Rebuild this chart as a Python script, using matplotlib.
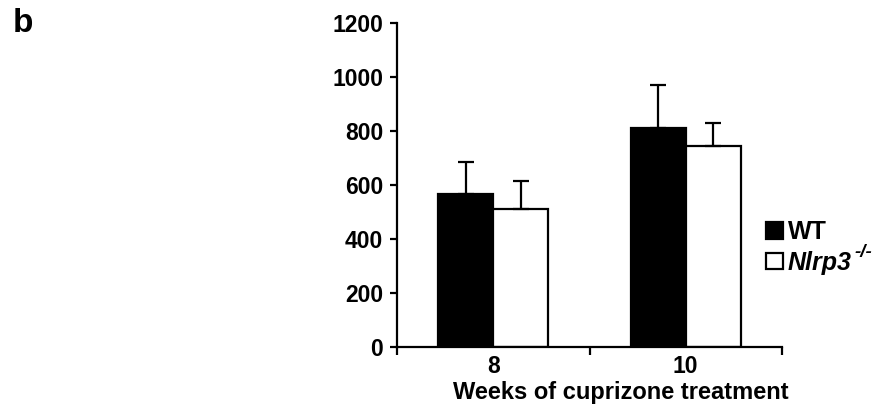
import matplotlib
matplotlib.use("Agg")
import matplotlib.pyplot as plt
import numpy as np

# Data
categories = ["8", "10"]
wt_values = [569, 813]
wt_errors = [118, 160]
ko_values = [512, 745]
ko_errors = [102, 84]
series_labels = ["WT", "Nlrp3"]
ko_superscript = "-/-"
y_ticks = [0, 200, 400, 600, 800, 1000, 1200]
x_label = "Weeks of cuprizone treatment"
panel_label = "b"

plt.rcParams["font.family"] = ["Liberation Sans", "DejaVu Sans"]
plt.rcParams["font.weight"] = "bold"

W, H = 882, 413
fig = plt.figure(figsize=(W / 100, H / 100), dpi=100)
ax = fig.add_axes([397 / W, (H - 347) / H, 385 / W, (347 - 23.3) / H])

x = np.arange(len(categories))
bw = 0.286
lw = 1.6
err_kw = dict(ecolor="black", elinewidth=lw, capsize=6, capthick=lw)
b1 = ax.bar(x - bw / 2, wt_values, bw, color="black", edgecolor="black",
            linewidth=lw, yerr=[[0] * len(wt_errors), wt_errors],
            error_kw=err_kw, label=series_labels[0], zorder=2)
b2 = ax.bar(x + bw / 2, ko_values, bw, color="white", edgecolor="black",
            linewidth=lw, yerr=[[0] * len(ko_errors), ko_errors],
            error_kw=err_kw, label=series_labels[1], zorder=2)

ax.set_xlim(-0.5, len(categories) - 0.5)
ax.set_ylim(0, 1200)
ax.set_yticks(y_ticks)
ax.set_yticklabels([str(v) for v in y_ticks], fontsize=16.5, fontweight="bold")
ax.set_xticks([-0.5, 0.5, 1.5])
ax.set_xticklabels([])
ax.set_xticks(x, minor=True)
ax.set_xticklabels(categories, minor=True, fontsize=16.5, fontweight="bold")
ax.tick_params(axis="x", which="minor", length=0, pad=6)
ax.tick_params(axis="x", which="major", length=6, width=lw, direction="out")
ax.tick_params(axis="y", length=5, width=lw, direction="out", pad=5)

for s in ["top", "right"]:
    ax.spines[s].set_visible(False)
for s in ["left", "bottom"]:
    ax.spines[s].set_linewidth(lw)

ax.set_xlabel(x_label, fontsize=17, fontweight="bold")
ax.xaxis.set_label_coords((621 - 397) / 385, (347 - 392) / (347 - 23.3))
ax.xaxis.label.set_va("center")

leg = ax.legend(handles=[b1, b2], loc="center left",
                bbox_to_anchor=(766 / W, (H - 247.5) / H),
                bbox_transform=fig.transFigure, frameon=False,
                handlelength=0.66, handleheight=0.66,
                handletextpad=0.2, labelspacing=0.26, borderpad=0,
                borderaxespad=0, prop={"weight": "bold", "size": 18})
for p in leg.get_patches():
    p.set_linewidth(lw)
ko_text = leg.get_texts()[1]
ko_text.set_style("italic")

fig.canvas.draw()
bb = ko_text.get_window_extent()
fig.text((bb.x1 + 3) / W, (bb.y1 - 2) / H, ko_superscript, fontsize=13.5,
         fontweight="bold", style="italic", ha="left", va="center")

fig.text(13 / W, (H - 24) / H, panel_label, fontsize=24, fontweight="bold",
         ha="left", va="center")

fig.savefig("out.png", dpi=100)
